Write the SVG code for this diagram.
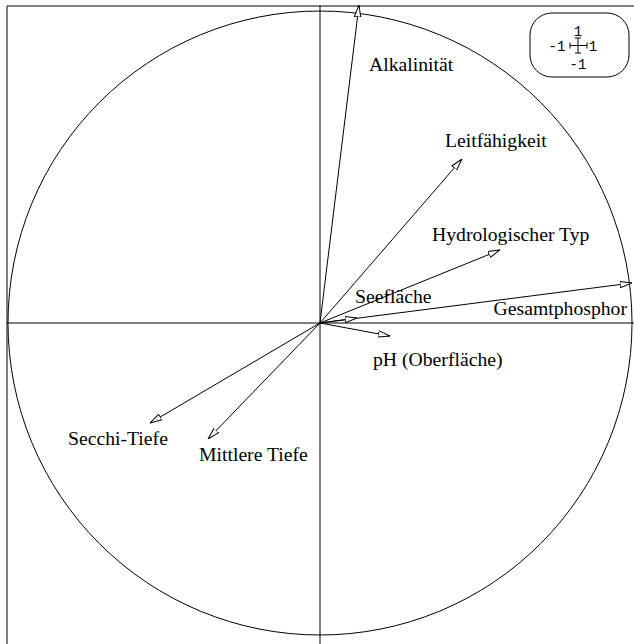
<svg xmlns="http://www.w3.org/2000/svg" width="634" height="644" viewBox="0 0 634 644">
<style>
.l{stroke:#000;stroke-width:1;fill:none}
.a{stroke:#000;stroke-width:1;fill:none;marker-end:url(#h)}
.t{font-family:"Liberation Serif",serif;font-size:19.7px;fill:#000}
.m{font-family:"Liberation Mono",monospace;font-size:14px;fill:#000}
</style>
<defs>
<marker id="h" viewBox="0 0 12 8" refX="12" refY="4" markerWidth="12" markerHeight="8" markerUnits="userSpaceOnUse" orient="auto">
<path d="M0,0.8 L12,4 L0,7.2 Z" fill="#fff" stroke="#000" stroke-width="1"/>
</marker>
</defs>
<rect x="0" y="0" width="634" height="644" fill="#fff"/>
<g id="frame">
<path class="l" d="M7,644 V6 H634"/>
<circle class="l" cx="320" cy="323" r="312"/>
<line class="l" x1="320" y1="6" x2="320" y2="644"/>
<line class="l" x1="7" y1="323" x2="634" y2="323"/>
</g>
<g id="connectors">
<line class="a" x1="320" y1="323" x2="359" y2="5"/>
<line class="a" x1="320" y1="323" x2="462" y2="159"/>
<line class="a" x1="320" y1="323" x2="500" y2="250"/>
<line class="a" x1="320" y1="323" x2="632" y2="283"/>
<line class="a" x1="320" y1="323" x2="357" y2="318"/>
<line class="a" x1="320" y1="323" x2="390" y2="336"/>
<line class="a" x1="320" y1="323" x2="150" y2="423"/>
<line class="a" x1="320" y1="323" x2="208" y2="439"/>
</g>
<g id="n-alk"><text class="t" x="369" y="71">Alkalinität</text></g>
<g id="n-leit"><text class="t" x="445" y="147">Leitfähigkeit</text></g>
<g id="n-hyd"><text class="t" x="432" y="241">Hydrologischer Typ</text></g>
<g id="n-see"><text class="t" x="355" y="303">Seefläche</text></g>
<g id="n-ges"><text class="t" x="627" y="315" text-anchor="end">Gesamtphosphor</text></g>
<g id="n-ph"><text class="t" x="373" y="366">pH (Oberfläche)</text></g>
<g id="n-sec"><text class="t" x="68" y="445">Secchi-Tiefe</text></g>
<g id="n-mit"><text class="t" x="199" y="461">Mittlere Tiefe</text></g>
<g id="legend">
<rect class="l" x="530" y="13" width="99" height="64" rx="22" ry="22"/>
<text class="m" x="578" y="36" text-anchor="middle">1</text>
<text class="m" x="557" y="51" text-anchor="middle">-1</text>
<text class="m" x="593" y="51" text-anchor="middle">1</text>
<text class="m" x="578" y="69" text-anchor="middle">-1</text>
<path class="l" d="M578,38 V53 M575,38 H581 M575,53 H581 M570,45.5 H587 M570,42.5 V48.5 M587,42.5 V48.5"/>
</g>
</svg>
